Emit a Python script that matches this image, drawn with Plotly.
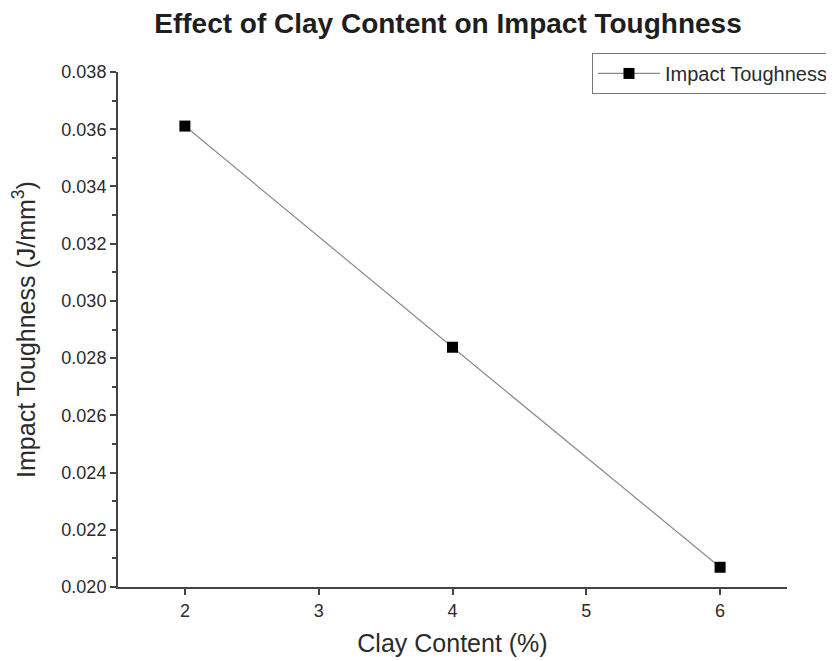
import plotly.graph_objects as go

clay_content = [2, 4, 6]
impact_toughness = [0.03611, 0.02838, 0.02069]
y_ticks = [0.020, 0.022, 0.024, 0.026, 0.028, 0.030, 0.032, 0.034, 0.036, 0.038]
x_ticks = [2, 3, 4, 5, 6]

FONT = "Liberation Sans, Arial, sans-serif"
TXT = "#2b2b2b"

fig = go.Figure()
fig.add_trace(go.Scatter(
    x=clay_content, y=impact_toughness, mode="lines+markers",
    name="Impact Toughness",
    line=dict(color="#8a8a8a", width=1.2),
    marker=dict(symbol="square", size=11, color="black"),
))

# page has an 8px body margin: figure is shifted by 8px right and down
W, H = 826, 653
fig.update_layout(
    width=W, height=H,
    margin=dict(l=110, r=47, t=64, b=74, autoexpand=False),
    paper_bgcolor="white", plot_bgcolor="white",
    font=dict(family=FONT, color=TXT, size=18),
    title=dict(text="<b>Effect of Clay Content on Impact Toughness</b>",
               x=440 / W, xanchor="center", y=1 - 15 / H, yanchor="middle",
               font=dict(size=28, color="#1e1e1e", family=FONT)),
    showlegend=True,
    legend=dict(x=0.7085, y=1.037, xanchor="left", yanchor="top",
                bordercolor="#777777", borderwidth=1, bgcolor="white",
                font=dict(size=20, color=TXT), itemwidth=62,
                tracegroupgap=0),
)
fig.update_xaxes(
    range=[1.5, 6.5], tickvals=x_ticks, ticktext=[str(v) for v in x_ticks],
    showgrid=False, zeroline=False, showline=True, linecolor="#444444", linewidth=2,
    ticks="outside", ticklen=6, tickwidth=1.5, tickcolor="#444444",
    tickfont=dict(size=18, color=TXT), automargin=False,
    title=dict(text="Clay Content (%)", font=dict(size=25, color=TXT), standoff=15),
)
fig.update_yaxes(
    range=[0.020, 0.038], tickvals=y_ticks, ticktext=[f"{v:.3f}" for v in y_ticks],
    showgrid=False, zeroline=False, showline=True, linecolor="#444444", linewidth=2,
    ticks="outside", ticklen=6, tickwidth=1.5, tickcolor="#444444",
    tickfont=dict(size=18, color=TXT), automargin=False,
    minor=dict(dtick=0.001, tick0=0.020, ticks="outside", ticklen=4, tickwidth=1.5, tickcolor="#444444", showgrid=False),
    title=dict(text="Impact Toughness (J/mm<sup>3</sup>)", font=dict(size=25, color=TXT), standoff=22),
)

fig.write_html("out.html")
